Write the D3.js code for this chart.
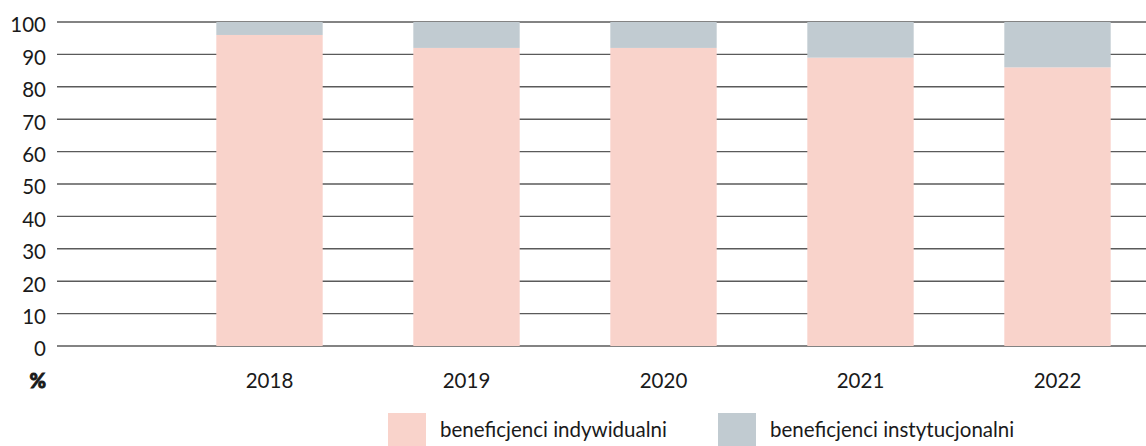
<!DOCTYPE html>
<html>
<head>
<meta charset="utf-8">
<script src="https://cdn.jsdelivr.net/npm/d3@7"></script>
<style>
  body { margin: 0; background: #fff; }
  text { font-family: Lato, "Open Sans", sans-serif; fill: #1a1a1a; }
</style>
</head>
<body>
<svg id="chart" width="1146" height="446"></svg>
<script>
// data
var years = ["2018", "2019", "2020", "2021", "2022"];
var individual = [96, 92, 92, 89, 86];
var institutional = [4, 8, 8, 11, 14];
var yTicks = [0, 10, 20, 30, 40, 50, 60, 70, 80, 90, 100];
var seriesNames = ["beneficjenci indywidualni", "beneficjenci instytucjonalni"];
var colors = ["#f9d3cb", "#c1cbd1"];

var svg = d3.select("#chart");
var plot = { left: 57, right: 1146, top: 22, bottom: 346 };

var x = d3.scaleBand()
          .domain(years)
          .range([171, 1156])
          .paddingInner(0.46)
          .paddingOuter(0.23);

var y = d3.scaleLinear()
          .domain([0, 100])
          .range([plot.bottom, plot.top]);

// grid lines
svg.append("g")
    .selectAll("line")
    .data(yTicks)
    .enter()
    .append("line")
      .attr("x1", plot.left)
      .attr("x2", plot.right)
      .attr("y1", d => y(d))
      .attr("y2", d => y(d))
      .attr("stroke", "#5a5a5a")
      .attr("stroke-width", 1.4);

// y labels
svg.append("g")
    .selectAll("text")
    .data(yTicks)
    .enter()
    .append("text")
      .attr("x", 46)
      .attr("y", d => y(d) + 3)
      .attr("dy", "0.36em")
      .attr("text-anchor", "end")
      .style("font-size", "20.5px")
      .text(d => d);

// unit label, stroked so it reads bold even without a bold face
svg.append("text")
    .attr("x", 46)
    .attr("y", 388)
    .attr("text-anchor", "end")
    .style("font-size", "20px")
    .style("font-weight", "900")
    .style("stroke", "#1a1a1a")
    .style("stroke-width", "0.9px")
    .text("%");

// stacked bars
var rows = years.map((yr, i) => ({ year: yr, ind: individual[i], inst: institutional[i] }));
var stacked = d3.stack().keys(["ind", "inst"])(rows);

svg.append("g")
    .selectAll("g")
    .data(stacked)
    .enter()
    .append("g")
      .attr("fill", (d, i) => colors[i])
    .selectAll("rect")
    .data(d => d)
    .enter()
    .append("rect")
      .attr("x", d => x(d.data.year))
      .attr("width", x.bandwidth())
      .attr("y", d => y(d[1]))
      .attr("height", d => y(d[0]) - y(d[1]));

// x labels
svg.append("g")
    .selectAll("text")
    .data(years)
    .enter()
    .append("text")
      .attr("x", d => x(d) + x.bandwidth() / 2)
      .attr("y", 388)
      .attr("text-anchor", "middle")
      .style("font-size", "20.5px")
      .text(d => d);

// legend
var legendX = [388, 718];
var legend = svg.append("g")
    .selectAll("g")
    .data(seriesNames)
    .enter()
    .append("g")
      .attr("transform", (d, i) => "translate(" + legendX[i] + ",413)");

legend.append("rect")
    .attr("width", 38)
    .attr("height", 33)
    .attr("fill", (d, i) => colors[i]);

legend.append("text")
    .attr("x", 52)
    .attr("y", 24)
    .style("font-size", "20.5px")
    .text(d => d);
</script>
</body>
</html>
